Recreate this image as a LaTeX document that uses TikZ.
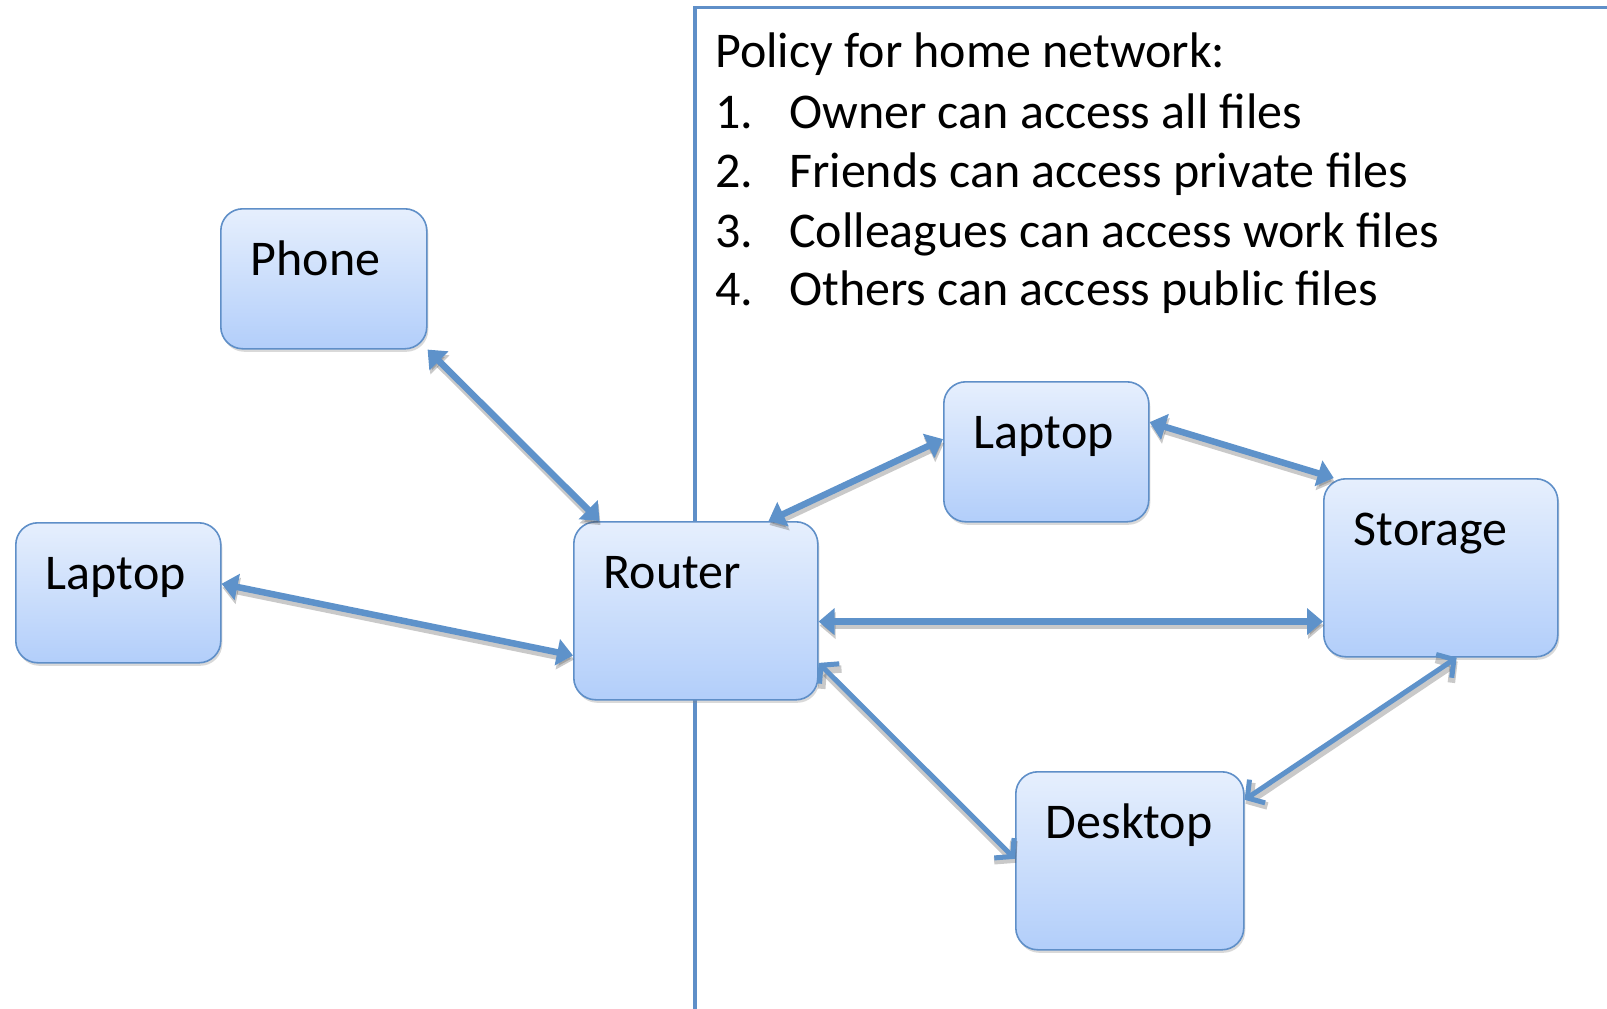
\documentclass[tikz,border=0pt]{standalone}
\usepackage{fontspec}
\setmainfont{Carlito}
\usepackage{tikz}
\usetikzlibrary{arrows.meta,shadows}

\definecolor{boxtop}{HTML}{E6EFFD}
\definecolor{boxbottom}{HTML}{B2CEFA}
\definecolor{boxborder}{HTML}{5F8FC8}
\definecolor{linkblue}{HTML}{5E92CA}
\newcommand{\labelfont}{\fontsize{50}{60}\selectfont}

\begin{document}
\begin{tikzpicture}[x=1pt,y=-1pt]
                \tikzstyle{device} = [rectangle, rounded corners=22pt, draw=boxborder, line width=1.6pt, top color=boxtop, bottom color=boxbottom, drop shadow={shadow xshift=1.5pt, shadow yshift=-3pt, opacity=0.3}, anchor=north west, inner xsep=30pt, inner ysep=0pt, text height=67pt, align=left, font=\labelfont]
                \tikzstyle{short} = [text depth=73pt]
                \tikzstyle{tall} = [text depth=111pt]
                \tikzstyle{rule} = [anchor=base west, inner sep=0pt, font=\labelfont]
                \tikzstyle{linkshadow} = [preaction={draw=black!70, opacity=0.3, line width=7.5pt, transform canvas={xshift=1pt, yshift=-4pt}}]
                \tikzstyle{arrow} = [line width=6.5pt, draw=linkblue, linkshadow, {Triangle[length=16pt,width=26pt]}-{Triangle[length=16pt,width=26pt]}]
                \tikzstyle{openarrow} = [line width=5pt, draw=linkblue, linkshadow, line cap=round, {Straight Barb[length=12pt,width=28pt]}-{Straight Barb[length=12pt,width=28pt]}]
                \useasboundingbox (0,0) rectangle (1607,1009);
                \clip (0,0) rectangle (1607,1009);

                % policy frame
                \draw [draw=boxborder, line width=3.5pt] (695,1040) |- (1640,7.5);
                \node (policy) [rule] at (715,67) {Policy for home network:};
                \node (rule1) [rule] at (715,128) {\makebox[74pt][l]{1.}Owner can access all files};
                \node (rule2) [rule] at (715,187) {\makebox[74pt][l]{2.}Friends can access private files};
                \node (rule3) [rule] at (715,247) {\makebox[74pt][l]{3.}Colleagues can access work files};
                \node (rule4) [rule] at (715,305) {\makebox[74pt][l]{4.}Others can access public files};

                \node (phone) [device, short, text width=146pt] at (220,208) {Phone};
                \node (laptopL) [device, short, text width=145pt] at (15,522) {Laptop};
                \node (router) [device, tall, text width=184pt] at (573,521) {Router};
                \node (laptopR) [device, short, text width=145pt] at (943,381) {Laptop};
                \node (storage) [device, tall, text width=174pt] at (1323,478) {Storage};
                \node (desktop) [device, tall, text width=168pt] at (1015,771) {Desktop};

                \draw [arrow] (phone.south east) -- (router.137);
                \draw [arrow] (laptopL.5) -- (router.200);
                \draw [arrow] (router.51) -- (laptopR.173);
                \draw [arrow] (laptopR.16) -- (storage.140);
                \draw [arrow] (router.-5) -- (router.-5 -| storage.west);
                \draw [openarrow] (router.-23) -- (desktop.179);
                \draw [openarrow] (storage.-80) -- (desktop.28);
            \end{tikzpicture}
\end{document}
